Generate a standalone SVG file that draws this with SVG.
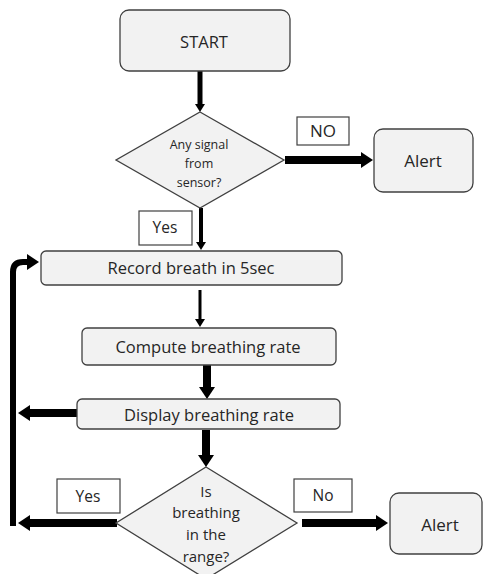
<svg xmlns="http://www.w3.org/2000/svg" width="483" height="574" viewBox="0 0 483 574">
<style>
.box{fill:#f2f2f2;stroke:#404040;stroke-width:1.3}
.lbl{fill:#ffffff;stroke:#404040;stroke-width:1.2}
text{font-family:"Open Sans","Liberation Sans",sans-serif;fill:#262626;text-anchor:middle;dominant-baseline:central}
.t15{font-size:16.5px}
.t16{font-size:17px}
.tl{font-size:15.5px}
.tr{font-size:15px}
.t11{font-size:12.5px}
.thick{stroke:#000;stroke-width:8;fill:none}
.thin{stroke:#000;stroke-width:4;fill:none}
.loop{stroke:#000;stroke-width:6;fill:none}
</style>
<defs>
<marker id="hb" markerUnits="userSpaceOnUse" markerWidth="12" markerHeight="16" refX="1" refY="8" orient="auto">
<path d="M0,0 L12,8 L0,16 z" fill="#000"/>
</marker>
<marker id="hs" markerUnits="userSpaceOnUse" markerWidth="8" markerHeight="10" refX="1" refY="5" orient="auto">
<path d="M0,0 L8,5 L0,10 z" fill="#000"/>
</marker>
</defs>
<rect width="483" height="574" fill="#fff"/>
<g id="connectors">
<line class="thin" x1="200" y1="71" x2="200" y2="105" style="stroke-width:5" marker-end="url(#hs)"/>
<line class="thick" x1="285" y1="160" x2="362" y2="160" marker-end="url(#hb)"/>
<line class="thin" x1="201" y1="208" x2="201" y2="243" marker-end="url(#hs)"/>
<line class="thin" x1="200" y1="290" x2="200" y2="320" style="stroke-width:3" marker-end="url(#hs)"/>
<line class="thick" x1="207" y1="365" x2="207" y2="388" marker-end="url(#hb)"/>
<line class="thick" x1="77" y1="413" x2="29" y2="413" marker-end="url(#hb)"/>
<line class="thick" x1="206" y1="430" x2="206" y2="456" marker-end="url(#hb)"/>
<line class="thick" x1="117" y1="523" x2="29" y2="523" marker-end="url(#hb)"/>
<line class="thick" x1="302" y1="523" x2="377" y2="523" marker-end="url(#hb)"/>
<path class="loop" d="M13,526 L13,272 Q13,262 23,262 L28,262" marker-end="url(#hb)"/>
</g>
<g id="start"><rect class="box" x="120" y="10" width="170" height="61" rx="9"/><text class="t15" x="204" y="41">START</text></g>
<g id="signal"><polygon class="box" points="200,112 284,160 200,208 116,160"/>
<text class="t11" x="199" y="144">Any signal</text><text class="t11" x="199" y="163">from</text><text class="t11" x="199" y="182">sensor?</text></g>
<g id="lbl-no1"><rect class="lbl" x="297" y="117" width="52" height="28"/><text class="t16" x="323" y="130">NO</text></g>
<g id="alert1"><rect class="box" x="374" y="129" width="99" height="63" rx="9"/><text class="t16" x="423" y="160">Alert</text></g>
<g id="lbl-yes1"><rect class="lbl" x="139" y="211" width="53" height="34"/><text class="tl" x="165" y="227">Yes</text></g>
<g id="record"><rect class="box" x="41" y="251" width="301" height="34" rx="5"/><text class="t15" x="191" y="267">Record breath in 5sec</text></g>
<g id="compute"><rect class="box" x="82" y="328" width="254" height="37" rx="5"/><text class="t15" x="208" y="346">Compute breathing rate</text></g>
<g id="display"><rect class="box" x="77" y="399" width="263" height="30" rx="5"/><text class="t15" x="209" y="414">Display breathing rate</text></g>
<g id="range"><polygon class="box" points="206,467 297,523 206,579 116,523"/>
<text class="tr" x="206" y="491">Is</text><text class="tr" x="206" y="512">breathing</text><text class="tr" x="206" y="534">in the</text><text class="tr" x="206" y="556">range?</text></g>
<g id="lbl-yes2"><rect class="lbl" x="57" y="479" width="63" height="34"/><text class="tl" x="88" y="496">Yes</text></g>
<g id="lbl-no2"><rect class="lbl" x="294" y="479" width="58" height="33"/><text class="tl" x="323" y="495">No</text></g>
<g id="alert2"><rect class="box" x="390" y="493" width="92" height="61" rx="9"/><text class="t16" x="440" y="524">Alert</text></g>
</svg>
